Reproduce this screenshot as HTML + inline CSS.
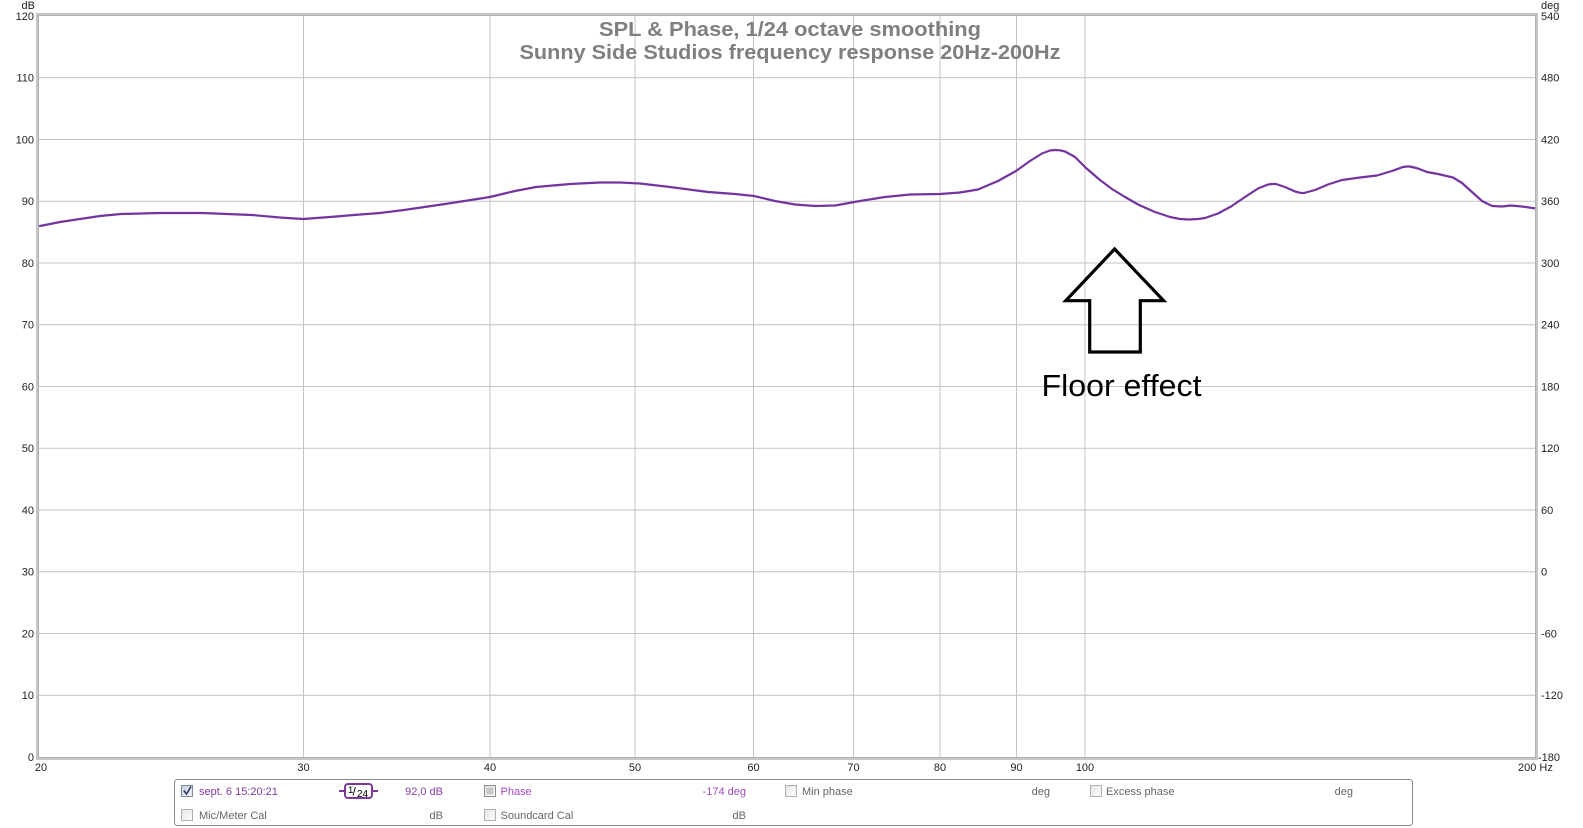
<!DOCTYPE html>
<html>
<head>
<meta charset="utf-8">
<style>
  html,body{margin:0;padding:0;background:#fff;}
  body{width:1583px;height:828px;overflow:hidden;}
  svg{display:block;font-family:"Liberation Sans",Arial,sans-serif;}
</style>
</head>
<body>
<svg width="1583" height="828" viewBox="0 0 1583 828" xmlns="http://www.w3.org/2000/svg">
  <defs>
    <clipPath id="plot"><rect x="39" y="16" width="1496" height="741"/></clipPath>
    <linearGradient id="cb" x1="0" y1="0" x2="1" y2="1">
      <stop offset="0" stop-color="#e4e4e4"/>
      <stop offset="1" stop-color="#ffffff"/>
    </linearGradient>
    <linearGradient id="cbc" x1="0" y1="0" x2="1" y2="1">
      <stop offset="0" stop-color="#c9d3e2"/>
      <stop offset="1" stop-color="#eef2f8"/>
    </linearGradient>
  </defs>
  <rect width="1583" height="828" fill="#fff"/>

  <!-- horizontal grid -->
  <g stroke="#c4c4c4" stroke-width="1">
    <line x1="39" y1="77.75" x2="1535" y2="77.75"/>
    <line x1="39" y1="139.5" x2="1535" y2="139.5"/>
    <line x1="39" y1="201.25" x2="1535" y2="201.25"/>
    <line x1="39" y1="263" x2="1535" y2="263"/>
    <line x1="39" y1="324.75" x2="1535" y2="324.75"/>
    <line x1="39" y1="386.5" x2="1535" y2="386.5"/>
    <line x1="39" y1="448.25" x2="1535" y2="448.25"/>
    <line x1="39" y1="510" x2="1535" y2="510"/>
    <line x1="39" y1="571.75" x2="1535" y2="571.75"/>
    <line x1="39" y1="633.5" x2="1535" y2="633.5"/>
    <line x1="39" y1="695.25" x2="1535" y2="695.25"/>
  </g>
  <!-- vertical grid -->
  <g stroke="#c4c4c4" stroke-width="1">
    <line x1="303.5" y1="16" x2="303.5" y2="757"/>
    <line x1="490" y1="16" x2="490" y2="757"/>
    <line x1="635" y1="16" x2="635" y2="757"/>
    <line x1="753.5" y1="16" x2="753.5" y2="757"/>
    <line x1="853.5" y1="16" x2="853.5" y2="757"/>
    <line x1="940" y1="16" x2="940" y2="757"/>
    <line x1="1016.5" y1="16" x2="1016.5" y2="757"/>
    <line x1="1085" y1="16" x2="1085" y2="757"/>
  </g>

  <!-- frame -->
  <rect x="37.5" y="14.5" width="1499" height="744" fill="none" stroke="#c6c6c6" stroke-width="3"/>
  <rect x="38.5" y="15.5" width="1497" height="742" fill="none" stroke="#b0b0b0" stroke-width="1"/>

  <!-- title -->
  <g fill="#7f7f7f" font-weight="bold" font-size="20" text-anchor="middle">
    <text x="790" y="36" textLength="382" lengthAdjust="spacingAndGlyphs">SPL &amp; Phase, 1/24 octave smoothing</text>
    <text x="790" y="59" textLength="541" lengthAdjust="spacingAndGlyphs">Sunny Side Studios frequency response 20Hz-200Hz</text>
  </g>

  <!-- curve -->
  <g clip-path="url(#plot)">
    <polyline fill="none" stroke="#7434a0" stroke-width="2.2" stroke-linejoin="round" stroke-linecap="round"
      points="40,226 60,222 80,219 100,216 121,214 160,213 202,213 252,215 280,217.5 303,219 330,217 354,215 380,213 404,210 445,204 490,197 515,191 536,187 570,184 600,182.5 620,182.5 640,183.5 670,187 708,192 735,194 754,196 775,201 795,204.5 815,206 835,205.5 860,201 885,197 910,194.5 940,194 960,192.5 978,189.5 998,181 1016,171 1030,161 1042,153.5 1050,150.5 1055,150 1060,150.3 1065,151.5 1075,157 1086,168 1100,180 1112,189 1125,197 1139,205 1155,212 1170,217 1180,219 1189,219.5 1198,219 1205,218 1218,213.5 1231,206.5 1245,197 1258,188.5 1268,184.5 1272,184 1276,184 1285,187 1295,191.5 1300,192.8 1304,193 1315,190 1328,184.5 1342,180 1360,177.5 1377,175.5 1392,171 1403,167 1407,166.5 1410,166.5 1418,168.5 1427,172 1438,174 1453,177.5 1462,183 1472,192 1482,201 1492,206 1502,206.5 1511,205.5 1522,206.5 1536,208.5"/>
  </g>

  <!-- left axis labels -->
  <g fill="#222" font-size="11" text-anchor="end">
    <text x="35" y="9">dB</text>
    <text x="34" y="20">120</text>
    <text x="34" y="81.5">110</text>
    <text x="34" y="143.5">100</text>
    <text x="34" y="205">90</text>
    <text x="34" y="267">80</text>
    <text x="34" y="328.5">70</text>
    <text x="34" y="390.5">60</text>
    <text x="34" y="452">50</text>
    <text x="34" y="514">40</text>
    <text x="34" y="575.5">30</text>
    <text x="34" y="637.5">20</text>
    <text x="34" y="699">10</text>
    <text x="34" y="761">0</text>
  </g>
  <!-- right axis labels -->
  <g fill="#222" font-size="11" text-anchor="start">
    <text x="1541" y="9">deg</text>
    <text x="1541" y="20">540</text>
    <text x="1541" y="81.5">480</text>
    <text x="1541" y="143.5">420</text>
    <text x="1541" y="205">360</text>
    <text x="1541" y="267">300</text>
    <text x="1541" y="328.5">240</text>
    <text x="1541" y="390.5">180</text>
    <text x="1541" y="452">120</text>
    <text x="1541" y="514">60</text>
    <text x="1541" y="575.5">0</text>
    <text x="1541" y="637.5">-60</text>
    <text x="1541" y="699">-120</text>
    <text x="1538" y="761">-180</text>
  </g>
  <!-- bottom axis labels -->
  <g fill="#222" font-size="11" text-anchor="middle">
    <text x="41" y="771">20</text>
    <text x="303.5" y="771">30</text>
    <text x="490" y="771">40</text>
    <text x="635" y="771">50</text>
    <text x="753.5" y="771">60</text>
    <text x="853.5" y="771">70</text>
    <text x="940" y="771">80</text>
    <text x="1016.5" y="771">90</text>
    <text x="1085" y="771">100</text>
    <text x="1518" y="771" text-anchor="start">200 Hz</text>
  </g>

  <!-- annotation arrow -->
  <polygon points="1114.6,249 1163.6,300.7 1140.3,300.7 1140.3,352 1089.7,352 1089.7,300.7 1065.8,300.7"
    fill="none" stroke="#000" stroke-width="3.2" stroke-linejoin="miter"/>
  <text x="1041.5" y="396" font-size="31" fill="#000" textLength="160" lengthAdjust="spacingAndGlyphs">Floor effect</text>

  <!-- legend box -->
  <rect x="174.5" y="779.5" width="1238" height="46" rx="3" ry="3" fill="#fff" stroke="#8c8c8c" stroke-width="1"/>

  <!-- legend row 1 -->
  <g font-size="11">
    <rect x="181.5" y="785.5" width="11" height="11" fill="url(#cbc)" stroke="#7a8699"/>
    <path d="M183.8 790.5 L186.5 794 L191 786.5" fill="none" stroke="#2f3d5c" stroke-width="1.6"/>
    <text x="199" y="795" fill="#7a3a9a">sept. 6 15:20:21</text>

    <line x1="339" y1="791" x2="345" y2="791" stroke="#7a3a9a" stroke-width="2"/>
    <line x1="372" y1="791" x2="378" y2="791" stroke="#7a3a9a" stroke-width="2"/>
    <rect x="345" y="784" width="27" height="14" rx="3" ry="3" fill="#fff" stroke="#7a3a9a" stroke-width="2"/>
    <text x="348" y="793" fill="#000" font-size="9.5">1</text>
    <text x="352.5" y="795.5" fill="#000" font-size="12">/</text>
    <text x="357" y="797" fill="#000" font-size="10">24</text>

    <text x="443" y="795" fill="#8a40a8" text-anchor="end">92,0 dB</text>

    <rect x="484.5" y="785.5" width="11" height="11" fill="url(#cb)" stroke="#8a8a8a"/>
    <rect x="486.5" y="787.5" width="7" height="7" fill="#c8c8c8"/>
    <text x="500.5" y="795" fill="#a04cc0">Phase</text>
    <text x="746" y="795" fill="#a04cc0" text-anchor="end">-174 deg</text>

    <rect x="785.5" y="785.5" width="11" height="11" fill="url(#cb)" stroke="#b0b0b0"/>
    <text x="802" y="795" fill="#666">Min phase</text>
    <text x="1050" y="795" fill="#666" text-anchor="end">deg</text>

    <rect x="1090.5" y="785.5" width="11" height="11" fill="url(#cb)" stroke="#b0b0b0"/>
    <text x="1106" y="795" fill="#666">Excess phase</text>
    <text x="1353" y="795" fill="#666" text-anchor="end">deg</text>
  </g>

  <!-- legend row 2 -->
  <g font-size="11">
    <rect x="181.5" y="809.5" width="11" height="11" fill="url(#cb)" stroke="#b0b0b0"/>
    <text x="199" y="819" fill="#666">Mic/Meter Cal</text>
    <text x="443" y="819" fill="#666" text-anchor="end">dB</text>
    <rect x="484.5" y="809.5" width="11" height="11" fill="url(#cb)" stroke="#b0b0b0"/>
    <text x="500.5" y="819" fill="#666">Soundcard Cal</text>
    <text x="746" y="819" fill="#666" text-anchor="end">dB</text>
  </g>
</svg>
</body>
</html>
